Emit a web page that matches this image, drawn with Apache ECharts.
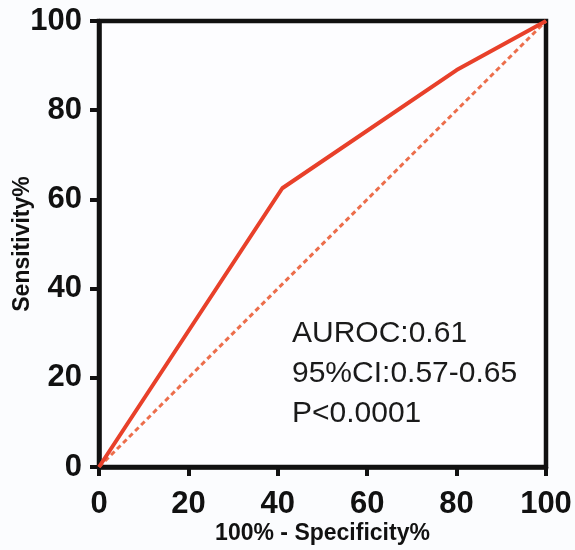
<!DOCTYPE html>
<html>
<head>
<meta charset="utf-8">
<script src="https://cdn.jsdelivr.net/npm/echarts@6/dist/echarts.min.js"></script>
<style>
html,body{margin:0;padding:0;background:#fbfcfe;}
#chart{width:575px;height:550px;}
</style>
</head>
<body>
<div id="chart"></div>
<script>
// Data
var rocX = [0, 41, 80, 100];
var rocY = [0, 62.5, 89, 100];
var refX = [0, 100];
var refY = [0, 100];
var tickValues = [0, 20, 40, 60, 80, 100];
var annotations = ['AUROC:0.61', '95%CI:0.57-0.65', 'P<0.0001'];
var xTitle = '100% - Specificity%';
var yTitle = 'Sensitivity%';

function pairs(xs, ys) { return xs.map(function (x, i) { return [x, ys[i]]; }); }

var chart = echarts.init(document.getElementById('chart'), null, {renderer: 'canvas'});
var axisCommon = {
  type: 'value', min: tickValues[0], max: tickValues[tickValues.length - 1], interval: tickValues[1] - tickValues[0],
  nameLocation: 'middle',
  nameMoveOverlap: false,
  nameTextStyle: {fontFamily: 'Liberation Sans', fontWeight: 'bold', fontSize: 23, color: '#111'},
  axisLine: {show: true, onZero: false, lineStyle: {color: '#111', width: 4.5}},
  axisTick: {show: true, inside: false, length: 9, lineStyle: {color: '#111', width: 4}},
  axisLabel: {fontFamily: 'Liberation Sans', fontWeight: 'bold', fontSize: 31, color: '#111'},
  splitLine: {show: false}
};
chart.setOption({
  animation: false,
  backgroundColor: '#fbfcfe',
  grid: {left: 99, right: 29, top: 21, bottom: 83, containLabel: false, outerBoundsMode: 'none',
         show: true, borderColor: '#111', borderWidth: 4.5, backgroundColor: '#fdfdff'},
  xAxis: Object.assign({}, axisCommon, {name: xTitle, nameGap: 55, axisLabel: Object.assign({}, axisCommon.axisLabel, {margin: 22})}),
  yAxis: Object.assign({}, axisCommon, {name: yTitle, nameGap: 65, axisLabel: Object.assign({}, axisCommon.axisLabel, {margin: 17})}),
  series: [
    {type: 'line', data: pairs(refX, refY), symbol: 'none', lineStyle: {color: '#ec6e4c', width: 3, type: [5, 3.5]}, z: 2},
    {type: 'line', data: pairs(rocX, rocY), symbol: 'none', lineStyle: {color: '#e8402a', width: 4}, z: 3}
  ],
  graphic: annotations.map(function (t, i) {
    return {type: 'text', left: 292, top: 319 + i * 40, style: {text: t, fontFamily: 'Liberation Sans', fontSize: 30, fill: '#1a1a1a'}};
  })
});
</script>
</body>
</html>
